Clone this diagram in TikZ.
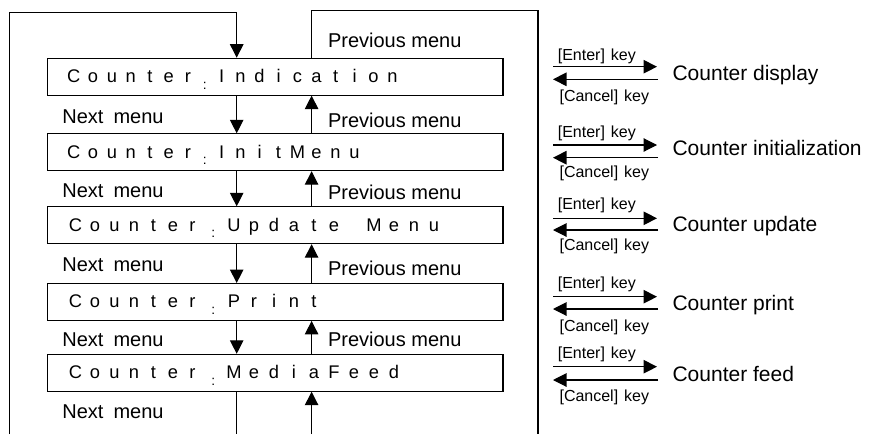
\documentclass[tikz,border=0pt]{standalone}
\usepackage{fontspec}
\setmainfont{Liberation Sans}
\usetikzlibrary{arrows.meta}
\makeatletter
\def\lcdcells#1#2{\def\lcd@p{#1}\lcd@loop#2\relax}
\def\lcd@loop#1{\ifx\relax#1\else\makebox[\lcd@p pt][c]{#1}\expandafter\lcd@loop\fi}
\makeatother
\newcommand\lcdcolon{\raisebox{-6.5pt}{\scalebox{0.75}{:}}}
\tikzset{
  lcdbox/.style={draw, line width=1.1pt, anchor=north west, minimum width=455.1pt,
    minimum height=36.8pt, inner xsep=0pt, inner ysep=0pt, text width=455.1pt,
    align=left, text height=13pt, text depth=1pt, font=\fontsize{18.3}{21}\selectfont},
  menulbl/.style={anchor=base west, inner sep=0pt, font=\fontsize{20}{24}\selectfont},
  keylbl/.style={anchor=base west, inner sep=0pt, font=\fontsize{16}{19}\selectfont},
  funclbl/.style={anchor=base west, inner sep=0pt, font=\fontsize{21}{25}\selectfont},
  tip/.style={-{Triangle[length=13.5pt,width=13.5pt]}},
}
\begin{document}
\begin{tikzpicture}[x=1pt,y=-1pt,line width=1.1pt]
\useasboundingbox (0,0) rectangle (869,434);
% menu boxes
\node[lcdbox] (b1) at (47.3,57.7) {\hspace*{16.5pt}\lcdcells{19}{Counter}\makebox[14.7pt][c]{\lcdcolon}\lcdcells{19}{Indication}};
\node[lcdbox] (b2) at (47.3,133.3) {\hspace*{16.5pt}\lcdcells{19}{Counter}\makebox[14.7pt][c]{\lcdcolon}\lcdcells{19}{InitMenu}};
\node[lcdbox] (b3) at (47.3,206.3) {\hspace*{17.95pt}\lcdcells{19.5}{Counter}\makebox[21.75pt][c]{\lcdcolon}\lcdcells{20}{Update~Menu}};
\node[lcdbox] (b4) at (47.3,283) {\hspace*{17.95pt}\lcdcells{19.5}{Counter}\makebox[21.75pt][c]{\lcdcolon}\lcdcells{20}{Print}};
\node[lcdbox] (b5) at (47.3,353.8) {\hspace*{17.95pt}\lcdcells{19.5}{Counter}\makebox[21.75pt][c]{\lcdcolon}\lcdcells{20}{MediaFeed}};
% reference coordinates
\coordinate (dx) at (236.7,0);
\coordinate (ux) at (311.6,0);
\coordinate (lb) at (9.7,434);
\coordinate (lt) at (9.7,12.3);
\coordinate (rt) at (538,10.7);
\coordinate (rb) at (538,434);
% loops
\draw[tip] (lb) -- (lt) -| (b1.north -| dx);
\draw (b1.north -| ux) |- (rt) -- (rb);
% between boxes
\foreach \a/\b in {b1/b2,b2/b3,b3/b4,b4/b5}{
  \draw[tip] (\a.south -| dx) -- (\b.north -| dx);
  \draw[tip] (\b.north -| ux) -- (\a.south -| ux);
}
\draw (b5.south -| dx) -- (dx |- lb);
\draw[tip] (ux |- lb) -- (b5.south -| ux);
% menu labels
\node[menulbl] (pm0) at (327.5,47) {Previous menu};
\foreach \i/\y in {1/123,2/197,3/271,4/346,5/418}{
  \node[menulbl] (nm\i) at (61.8,\y) {Next\hspace{4.5pt} menu};
}
\foreach \i/\y in {1/127,2/199,3/275,4/346}{
  \node[menulbl] (pm\i) at (327.5,\y) {Previous menu};
}
% key transitions
\foreach \i/\eb/\ea/\ca/\cb/\fb/\txt in {
  1/60/66.7/79.3/101/80.5/Counter display,
  2/137/145/157.7/177/155/Counter initialization,
  3/209/218.3/230/250/231/Counter update,
  4/288/296.7/309/331/310/Counter print,
  5/358/366.7/380/401/381.5/Counter feed}{
  \node[keylbl] (ek\i) at (557.3,\eb) {[Enter]\hspace{1.5pt} key};
  \node[keylbl] (ck\i) at (559,\cb) {[Cancel]\hspace{1.5pt} key};
  \node[funclbl] (fn\i) at (672,\fb) {\txt};
  \coordinate (es\i) at (553,\ea);
  \coordinate (ee\i) at (657,\ea);
  \coordinate (cs\i) at (658,\ca);
  \coordinate (ce\i) at (553,\ca);
  \draw[tip] (es\i) -- (ee\i);
  \draw[tip] (cs\i) -- (ce\i);
}
\end{tikzpicture}
\end{document}
